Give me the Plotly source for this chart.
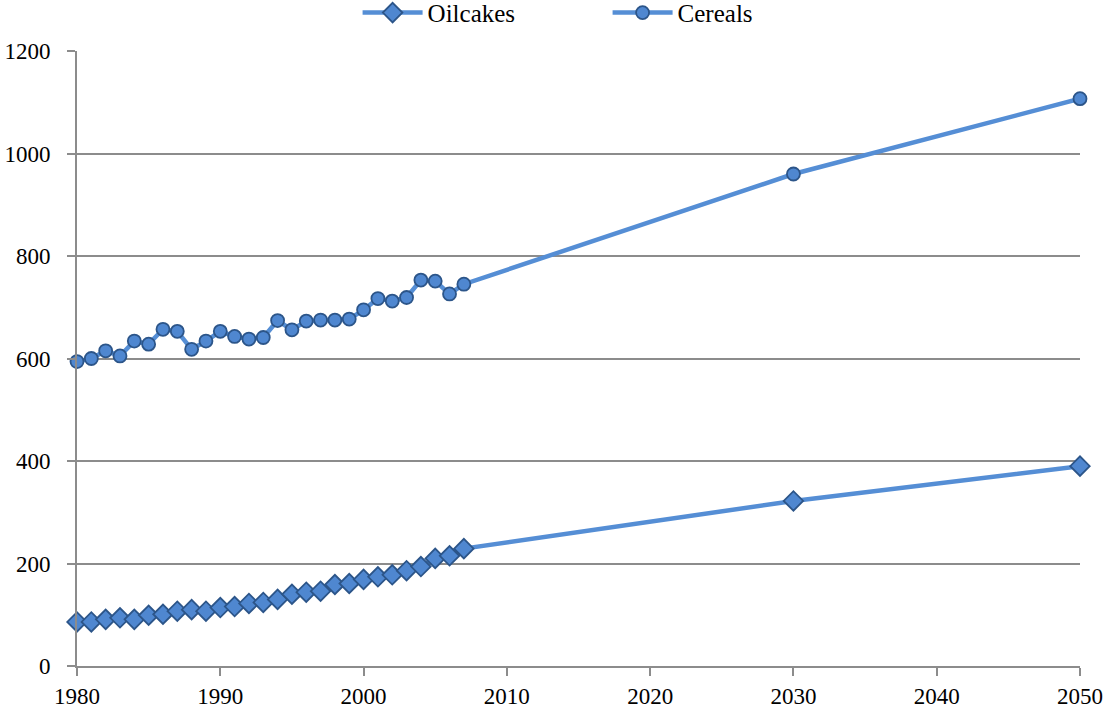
import plotly.graph_objects as go

# Historical years plus the two projection years
years = [1980, 1981, 1982, 1983, 1984, 1985, 1986, 1987, 1988, 1989,
         1990, 1991, 1992, 1993, 1994, 1995, 1996, 1997, 1998, 1999,
         2000, 2001, 2002, 2003, 2004, 2005, 2006, 2007, 2030, 2050]

oilcakes = [86, 86, 91, 94, 91, 99, 101, 107, 110, 107,
            114, 116, 122, 124, 130, 140, 144, 146, 159, 161,
            169, 174, 178, 186, 194, 210, 215, 229, 322, 390]

cereals = [594, 600, 615, 605, 634, 628, 657, 653, 618, 634,
           653, 643, 638, 641, 674, 656, 673, 675, 675, 677,
           695, 717, 712, 719, 753, 751, 726, 745, 960, 1107]

x_ticks = [1980, 1990, 2000, 2010, 2020, 2030, 2040, 2050]
y_ticks = [0, 200, 400, 600, 800, 1000, 1200]

LINE = "#558ED5"
FILL = "#4F87D0"
EDGE = "#2C5589"
AXIS = "#8C8C8C"
FONT = "Liberation Serif"

fig = go.Figure()
fig.add_trace(go.Scatter(
    x=years, y=oilcakes, name="Oilcakes", mode="lines+markers",
    line=dict(color=LINE, width=4.5),
    marker=dict(symbol="diamond", size=15, color=FILL,
                line=dict(color=EDGE, width=1.8)),
    cliponaxis=False,
))
fig.add_trace(go.Scatter(
    x=years, y=cereals, name="Cereals", mode="lines+markers",
    line=dict(color=LINE, width=4.5),
    marker=dict(symbol="circle", size=13, color=FILL,
                line=dict(color=EDGE, width=1.8)),
    cliponaxis=False,
))

fig.update_layout(
    width=1108, height=713,
    margin=dict(l=77, r=28, t=51, b=47, autoexpand=False),
    paper_bgcolor="white", plot_bgcolor="white",
    font=dict(family=FONT, size=23, color="#000000"),
    showlegend=True,
    legend=dict(
        orientation="h", x=0.529, xanchor="center",
        y=1.062, yanchor="middle",
        font=dict(family=FONT, size=25, color="#000000"),
        entrywidth=175, itemwidth=60,
        bgcolor="rgba(0,0,0,0)",
    ),
    xaxis=dict(
        range=[1980, 2050], tickvals=x_ticks,
        ticktext=[str(v) for v in x_ticks],
        showgrid=False, zeroline=False,
        showline=True, linecolor=AXIS, linewidth=2,
        ticks="outside", ticklen=8, tickcolor=AXIS, tickwidth=1.5,
        tickfont=dict(family=FONT, size=23, color="#000000"),
    ),
    yaxis=dict(
        range=[0, 1200], tickvals=y_ticks,
        ticktext=[str(v) for v in y_ticks],
        showgrid=True, gridcolor=AXIS, gridwidth=1.5,
        zeroline=False,
        showline=True, linecolor=AXIS, linewidth=2,
        ticks="outside", ticklen=8, tickcolor=AXIS, tickwidth=1.5,
        ticklabelstandoff=12,
        tickfont=dict(family=FONT, size=23, color="#000000"),
    ),
)

fig.write_html("out.html")
